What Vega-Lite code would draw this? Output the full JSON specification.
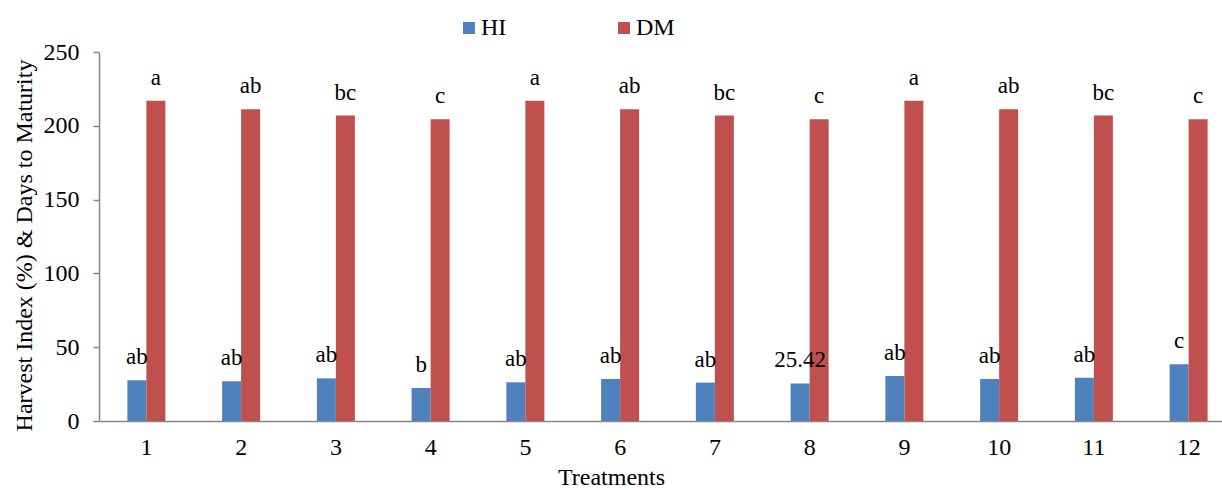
{
  "$schema": "https://vega.github.io/schema/vega-lite/v6.json",
  "width": 1122,
  "height": 369,
  "autosize": {"type": "none"},
  "padding": {"left": 99, "top": 52, "right": 1, "bottom": 69},
  "background": "white",
  "config": {
    "font": "Liberation Serif",
    "text": {"font": "Liberation Serif"},
    "view": {"stroke": null},
    "axis": {"labelFont": "Liberation Serif", "titleFont": "Liberation Serif", "labelColor": "black", "titleColor": "black", "titleFontWeight": "normal", "domainColor": "#868686", "tickColor": "#868686", "grid": false},
    "legend": {"labelFont": "Liberation Serif"}
  },
  "data": {
    "values": [
      {"t": "1", "s": "HI", "v": 27.6, "lab": "ab"},
      {"t": "1", "s": "DM", "v": 217, "lab": "a"},
      {"t": "2", "s": "HI", "v": 26.9, "lab": "ab"},
      {"t": "2", "s": "DM", "v": 211.2, "lab": "ab"},
      {"t": "3", "s": "HI", "v": 28.9, "lab": "ab"},
      {"t": "3", "s": "DM", "v": 206.9, "lab": "bc"},
      {"t": "4", "s": "HI", "v": 22.4, "lab": "b"},
      {"t": "4", "s": "DM", "v": 204.4, "lab": "c"},
      {"t": "5", "s": "HI", "v": 26.2, "lab": "ab"},
      {"t": "5", "s": "DM", "v": 217, "lab": "a"},
      {"t": "6", "s": "HI", "v": 28.5, "lab": "ab"},
      {"t": "6", "s": "DM", "v": 211.2, "lab": "ab"},
      {"t": "7", "s": "HI", "v": 26.0, "lab": "ab"},
      {"t": "7", "s": "DM", "v": 206.9, "lab": "bc"},
      {"t": "8", "s": "HI", "v": 25.42, "lab": "25.42"},
      {"t": "8", "s": "DM", "v": 204.4, "lab": "c"},
      {"t": "9", "s": "HI", "v": 30.5, "lab": "ab"},
      {"t": "9", "s": "DM", "v": 217, "lab": "a"},
      {"t": "10", "s": "HI", "v": 28.5, "lab": "ab"},
      {"t": "10", "s": "DM", "v": 211.2, "lab": "ab"},
      {"t": "11", "s": "HI", "v": 29.3, "lab": "ab"},
      {"t": "11", "s": "DM", "v": 206.9, "lab": "bc"},
      {"t": "12", "s": "HI", "v": 38.4, "lab": "c"},
      {"t": "12", "s": "DM", "v": 204.4, "lab": "c"}
    ]
  },
  "encoding": {
    "x": {
      "field": "t", "type": "ordinal", "sort": null,
      "scale": {"paddingInner": 0.599, "paddingOuter": 0.2995, "rangeMax": 1137},
      "axis": {"title": "Treatments", "labelAngle": 0, "ticks": false, "labelFontSize": 24, "titleFontSize": 24, "labelPadding": 14, "titlePadding": 6, "titleX": 512, "domainWidth": 1.5}
    },
    "xOffset": {"field": "s", "type": "nominal", "sort": ["HI", "DM"], "scale": {"paddingInner": 0, "paddingOuter": 0}},
    "y": {
      "field": "v", "type": "quantitative",
      "scale": {"domain": [0, 250], "nice": false},
      "axis": {"title": "Harvest Index (%) & Days to Maturity", "values": [0, 50, 100, 150, 200, 250], "tickSize": 6, "labelFontSize": 24, "titleFontSize": 24, "labelPadding": 14, "titlePadding": 7, "titleY": 193, "domainWidth": 1.5, "tickWidth": 1.5}
    }
  },
  "layer": [
    {
      "mark": {"type": "bar"},
      "encoding": {
        "color": {
          "field": "s", "type": "nominal",
          "scale": {"domain": ["HI", "DM"], "range": ["#4F81BD", "#C0504D"]},
          "legend": {"title": null, "orient": "none", "legendX": 358, "legendY": -36, "direction": "horizontal", "symbolType": "square", "symbolSize": 144, "symbolStrokeWidth": 0, "labelFontSize": 24, "labelFont": "Liberation Serif", "labelColor": "black", "labelOffset": 0, "columnPadding": 105}
        }
      }
    },
    {
      "mark": {"type": "text", "baseline": "middle", "align": "center", "dy": -23, "fontSize": 23, "font": "Liberation Serif", "color": "black"},
      "encoding": {"text": {"field": "lab"}}
    }
  ]
}
